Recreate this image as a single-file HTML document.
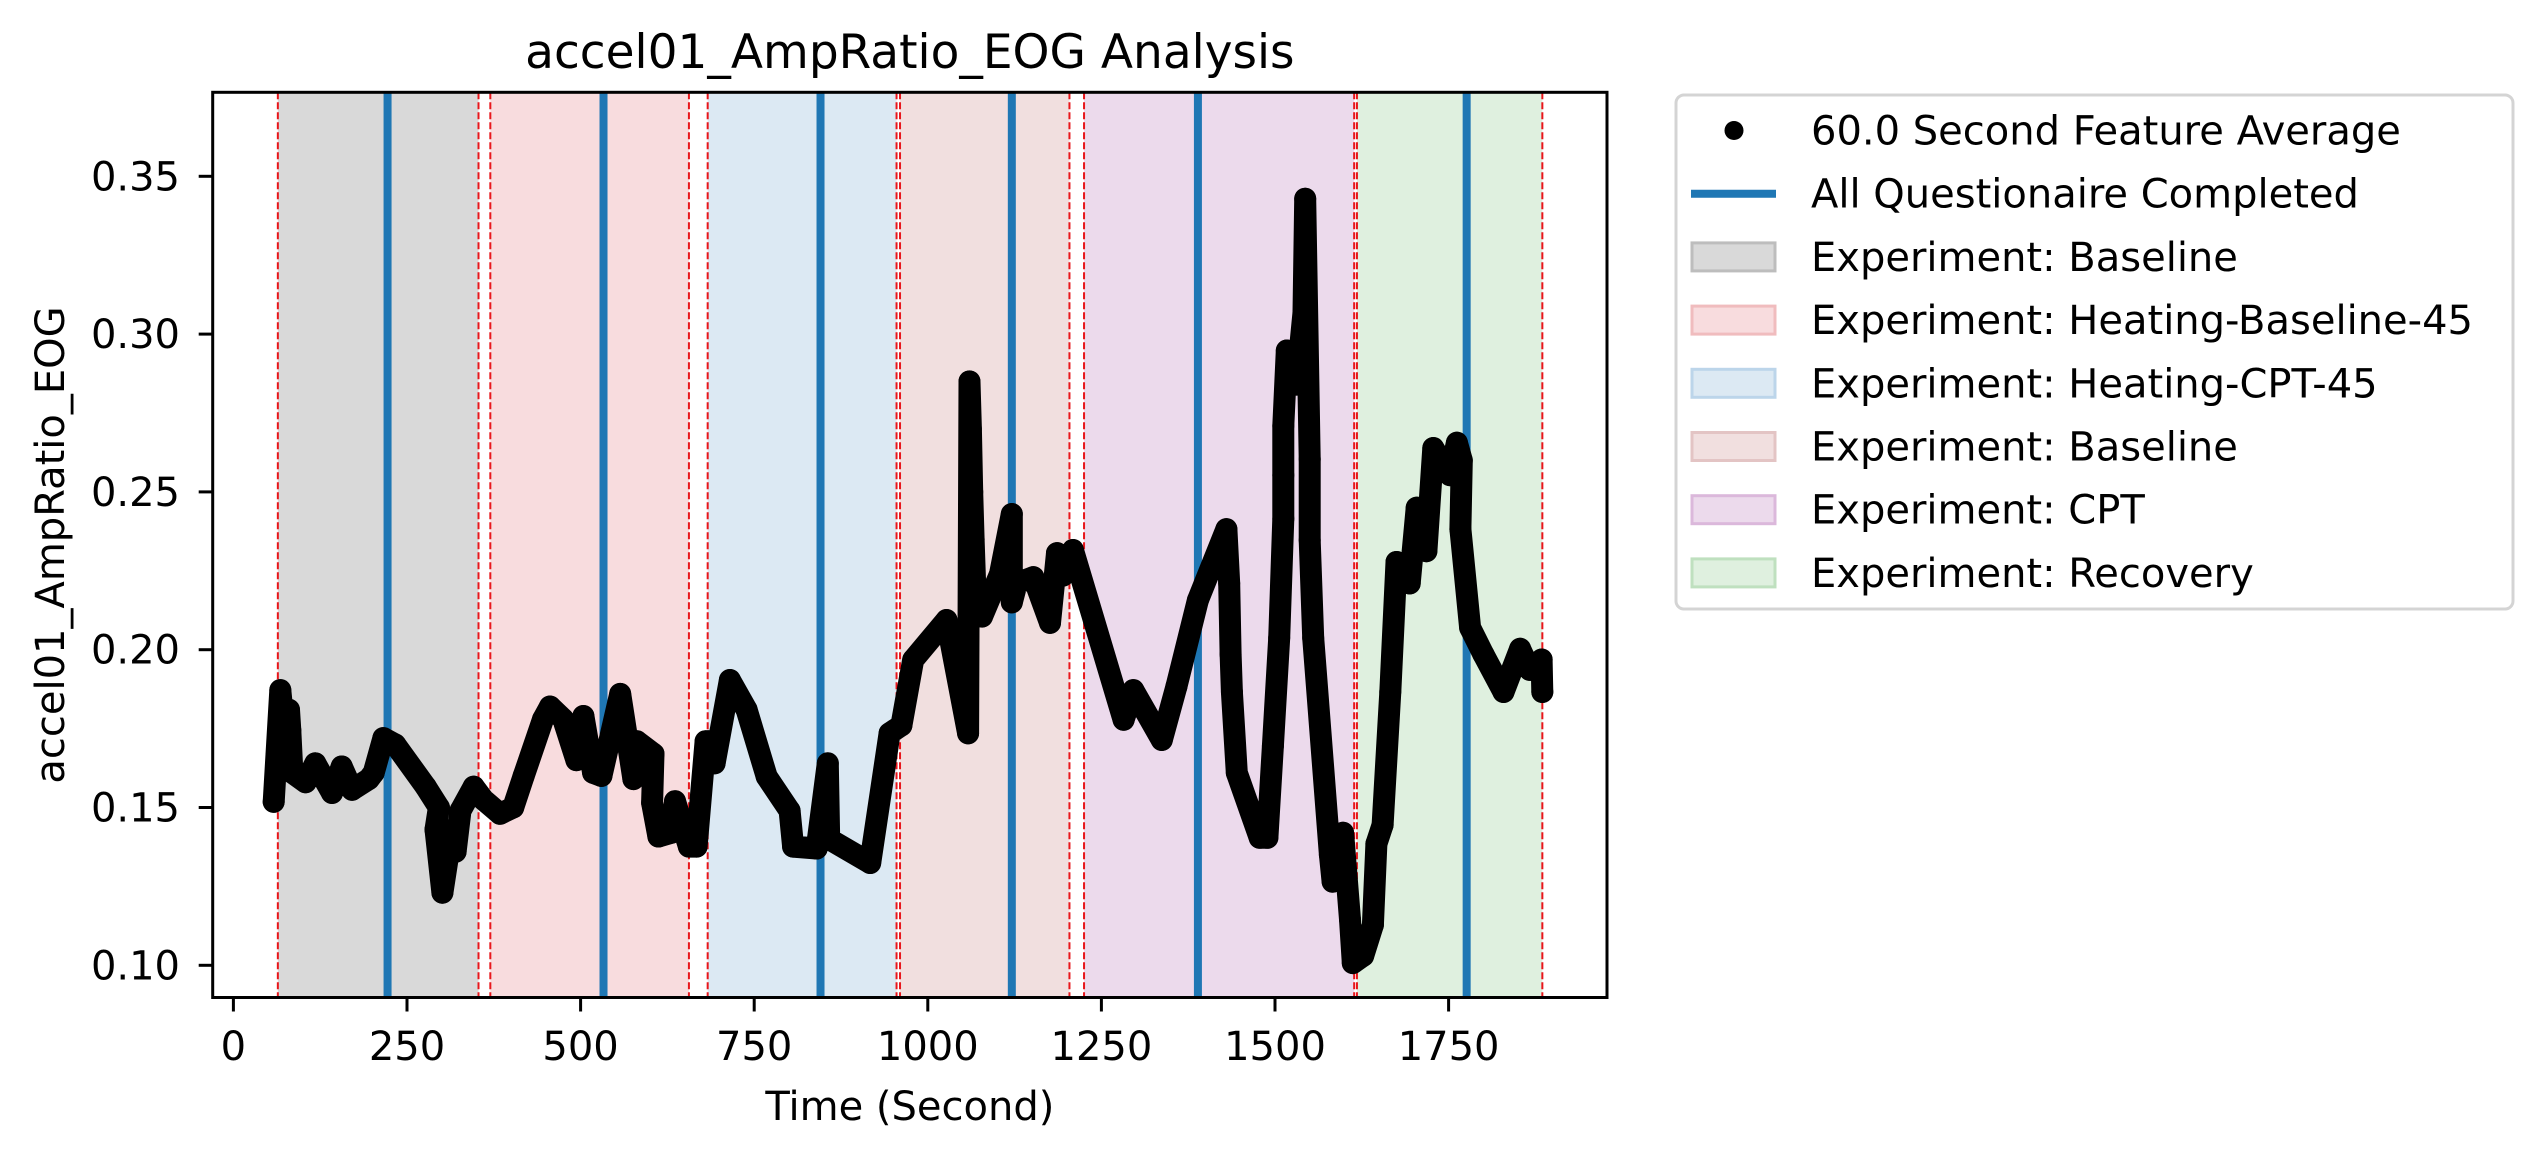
<!DOCTYPE html>
<html><head><meta charset="utf-8"><style>
html,body{margin:0;padding:0;background:#fff;}
svg{display:block;font-family:"DejaVu Sans","Liberation Sans",sans-serif;}
</style></head><body>
<svg id="chart" width="2544" height="1158" viewBox="0 0 2544 1158" xmlns="http://www.w3.org/2000/svg">
<rect width="2544" height="1158" fill="#fff"/>
<g id="plot"></g>
</svg>
<script>
const times = [58,67.6,77,80,82,85,104,118,142,156,171,195,202,216,233,277,296,291,301,315,320,327,346,360,384,403,418,446,456,475,494,504,518,530,557,576,581,605,603,612,631,636,656,667,680,684,693,715,739,768,801,806,840,856,858,917,945,962,979,1027,1058,1060,1062,1064,1066,1068,1070,1078,1104,1121,1121,1128,1152,1176,1186,1195,1209,1282,1296,1337,1358,1389,1430,1434,1436,1438,1445,1478,1489,1497,1506,1512,1512,1512,1517,1531,1541,1543.5,1550,1550,1555,1579,1583,1598,1608,1612,1627,1641,1646,1655,1666,1675,1694,1704,1718,1728,1752,1762,1769,1767,1781,1800,1829,1853,1867,1884,1885];
const values = [0.1518,0.1872,0.166,0.181,0.1745,0.161,0.158,0.164,0.1546,0.163,0.1556,0.159,0.161,0.172,0.170,0.1566,0.150,0.143,0.123,0.143,0.136,0.149,0.1566,0.1525,0.148,0.150,0.160,0.178,0.182,0.178,0.165,0.179,0.161,0.160,0.186,0.159,0.171,0.167,0.1515,0.1408,0.142,0.152,0.1376,0.1376,0.171,0.171,0.164,0.1904,0.181,0.1598,0.149,0.1376,0.137,0.164,0.140,0.1324,0.1735,0.176,0.1968,0.2094,0.1735,0.285,0.27,0.25,0.235,0.222,0.2136,0.2105,0.224,0.243,0.215,0.221,0.223,0.2085,0.2306,0.2235,0.2316,0.1778,0.1872,0.1714,0.1883,0.2157,0.2382,0.221,0.1986,0.1866,0.161,0.1404,0.1404,0.1695,0.2037,0.2415,0.2553,0.2709,0.2948,0.284,0.3068,0.3429,0.2604,0.2347,0.2037,0.135,0.1265,0.142,0.1145,0.1007,0.103,0.1128,0.1385,0.1445,0.1866,0.2278,0.221,0.245,0.2312,0.2639,0.2553,0.2656,0.26,0.2382,0.207,0.1986,0.1866,0.2003,0.1936,0.1969,0.1866];
const regionStarts = [64,370,683,960,1225,1618];
const regionEnds = [353,656,955,1204,1614,1885];
const regionNames = ["Experiment: Baseline","Experiment: Heating-Baseline-45","Experiment: Heating-CPT-45","Experiment: Baseline","Experiment: CPT","Experiment: Recovery"];
const regionFills = ["#d9d9d9","#f8dcde","#dce9f3","#f1dfdf","#ecdaec","#dff0df"];
const regionEdges = ["#bdbdbd","#f0bcbe","#bcd5ea","#e3c4c4","#dbb8db","#bfe0bf"];
const questionnaireTimes = [222,533,845.5,1121,1389,1776];
const xTicks = [0,250,500,750,1000,1250,1500,1750];
const yTicks = [0.10,0.15,0.20,0.25,0.30,0.35];

const L=212.7,R=1607,T=92.3,B=997.5;
function xs(t){return 233.4+0.6944*t;}
function ys(v){return 965.3-(v-0.10)*3156;}
const NS="http://www.w3.org/2000/svg";
const g=document.getElementById('plot');
function mk(tag,attrs,parent){const e=document.createElementNS(NS,tag);for(const k in attrs)e.setAttribute(k,attrs[k]);(parent||g).appendChild(e);return e;}

const defs=mk('defs',{});
const cp=mk('clipPath',{id:'clip'},defs);
mk('rect',{x:L,y:T,width:R-L,height:B-T},cp);
const pg=mk('g',{'clip-path':'url(#clip)'});

regionStarts.forEach((s,i)=>{
  const r=mk('rect',{x:xs(s),y:T,width:xs(regionEnds[i])-xs(s),height:B-T,fill:regionFills[i]},pg);
  
  
});
regionStarts.concat(regionEnds).forEach((s,i)=>{
  const l=mk('line',{x1:xs(s),x2:xs(s),y1:T,y2:B,stroke:'#e8161b','stroke-width':2,'stroke-dasharray':'7,3'},pg);
  
  
});
questionnaireTimes.forEach(t=>{
  const l=mk('line',{x1:xs(t),x2:xs(t),y1:T,y2:B,stroke:'#1f77b4','stroke-width':8},pg);
  
  
});
let d='';
times.forEach((t,i)=>{d+=(i?'L':'M')+xs(t).toFixed(1)+','+ys(values[i]).toFixed(1);});
const path=mk('path',{d:d,fill:'none',stroke:'#000','stroke-width':22,'stroke-linejoin':'round','stroke-linecap':'round'},pg);


times.forEach((t,i)=>{
  const c=mk('circle',{cx:xs(t),cy:ys(values[i]),r:11,fill:'#000'},pg);
  
  
});

const fr=mk('rect',{x:L,y:T,width:R-L,height:B-T,fill:'none',stroke:'#000','stroke-width':3});


xTicks.forEach(t=>{
  mk('line',{x1:xs(t),x2:xs(t),y1:B,y2:B+14,stroke:'#000','stroke-width':3});
  const tx=mk('text',{x:xs(t),y:1060,'text-anchor':'middle','font-size':40,fill:'#000'});
  tx.textContent=t;
  
  
});
yTicks.forEach(v=>{
  mk('line',{x1:L-14,x2:L,y1:ys(v),y2:ys(v),stroke:'#000','stroke-width':3});
  const tx=mk('text',{x:180,y:ys(v)+14,'text-anchor':'end','font-size':40,fill:'#000'});
  tx.textContent=v.toFixed(2);
  
  
});
const title=mk('text',{x:(L+R)/2,y:68,'text-anchor':'middle','font-size':47,fill:'#000'});
title.textContent='accel01_AmpRatio_EOG Analysis';


const xl=mk('text',{x:(L+R)/2,y:1120,'text-anchor':'middle','font-size':40,fill:'#000'});
xl.textContent='Time (Second)';


const yl=mk('text',{x:0,y:0,'text-anchor':'middle','font-size':40,fill:'#000',transform:'translate(64,545) rotate(-90)'});
yl.textContent='accel01_AmpRatio_EOG';



const lg=mk('g',{});


mk('rect',{x:1676,y:95,width:837,height:514,rx:8,fill:'#fff',stroke:'#d4d4d4','stroke-width':3},lg);
const rows=['60.0 Second Feature Average','All Questionaire Completed'].concat(regionNames);
rows.forEach((txt,i)=>{
  const cy=130.5+63.2*i;
  if(i===0){mk('circle',{cx:1734,cy:cy,r:9.5,fill:'#000'},lg);}
  else if(i===1){mk('line',{x1:1691,x2:1776,y1:cy,y2:cy,stroke:'#1f77b4','stroke-width':8},lg);}
  else{mk('rect',{x:1692,y:cy-14,width:83,height:28,fill:regionFills[i-2],stroke:regionEdges[i-2],'stroke-width':3},lg);}
  const t=mk('text',{x:1811,y:cy+14,'font-size':40,fill:'#000'},lg);
  t.textContent=txt;
  
  
});
</script>
</body></html>
